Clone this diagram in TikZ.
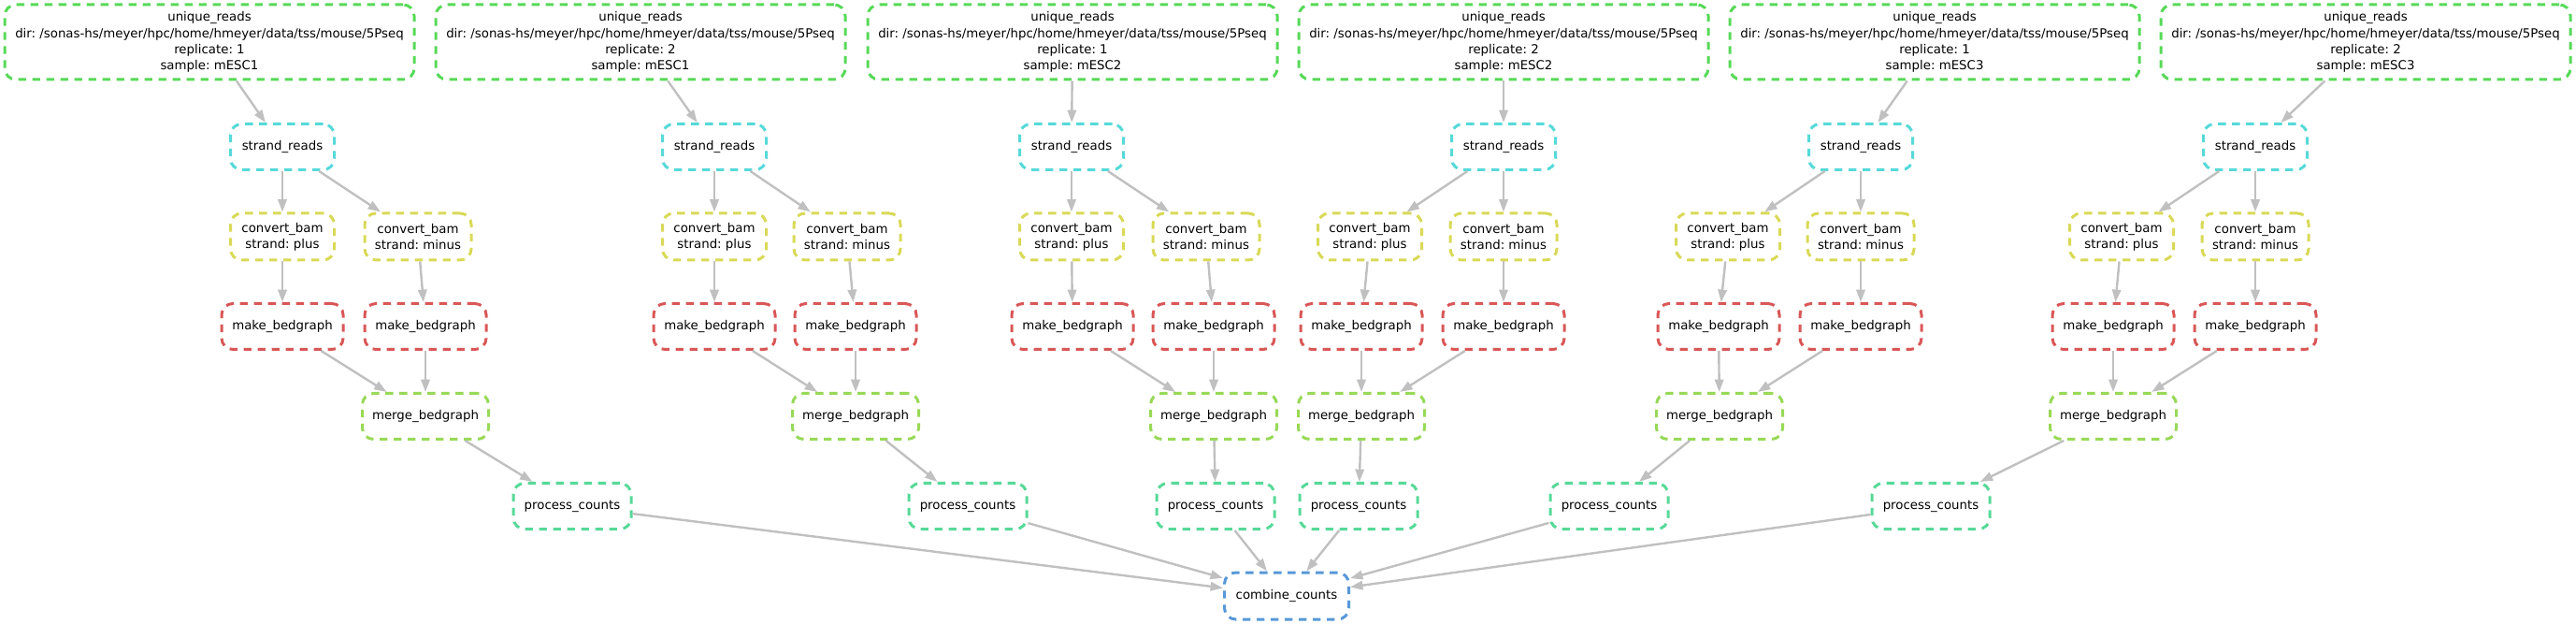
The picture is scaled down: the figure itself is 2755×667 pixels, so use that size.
\documentclass[tikz,border=0pt]{standalone}
\usepackage{fontspec}
\setmainfont{DejaVu Sans}
\usetikzlibrary{arrows.meta}
\definecolor{cU}{RGB}{87,217,87}
\definecolor{cS}{RGB}{87,217,217}
\definecolor{cC}{RGB}{217,217,87}
\definecolor{cM}{RGB}{217,87,87}
\definecolor{cG}{RGB}{152,217,87}
\definecolor{cP}{RGB}{87,217,152}
\definecolor{cK}{RGB}{87,152,217}
\definecolor{edgegray}{RGB}{192,192,192}
\frenchspacing
\begin{document}
\begin{tikzpicture}[x=0.5pt,y=-0.5pt,
  box/.style={draw, line width=1.5pt, dash pattern=on 4.2pt off 3.3pt,
    rounded corners=6pt, inner sep=0pt, align=center,
    font=\frenchspacing\fontsize{6.67}{8.6}\selectfont, text=black, fill=white},
  ubox/.style={box, draw=cU, minimum width=219pt, minimum height=40pt},
  sbox/.style={box, draw=cS, minimum width=55.5pt, minimum height=24.5pt},
  cbox/.style={box, draw=cC, minimum width=55.5pt, minimum height=25pt},
  cmbox/.style={box, draw=cC, minimum width=57pt, minimum height=25pt},
  mbox/.style={box, draw=cM, minimum width=65pt, minimum height=24.5pt},
  gbox/.style={box, draw=cG, minimum width=67.5pt, minimum height=24.5pt},
  pbox/.style={box, draw=cP, minimum width=63pt, minimum height=24.5pt},
  kbox/.style={box, draw=cK, minimum width=66.5pt, minimum height=25pt},
  edge/.style={draw=edgegray, line width=1.2pt, -{Triangle[length=6.7pt,width=4.7pt]}},
]
\useasboundingbox (0,0) rectangle (2755,667);
\node[kbox] (k) at (1376,637) {combine\_counts};
\foreach \i/\xU/\xS/\xCp/\xCm/\xMa/\xMb/\xG/\xP/\rp/\sm in {
  1/224/302/302/447/302/455/455/612/1/mESC1,
  2/685/764/764/906/764/915/915/1035/2/mESC1,
  3/1147/1146/1146/1290/1147/1298/1298/1300/1/mESC2,
  4/1608/1608/1465/1608/1456/1608/1456/1453/2/mESC2,
  5/2069/1990/1848/1990/1838/1990/1839/1721/1/mESC3,
  6/2530/2412/2269/2412/2260/2412/2260/2065/2/mESC3}{
  \node[ubox] (u\i) at (\xU,45) {unique\_reads\\dir: /sonas-hs/meyer/hpc/home/hmeyer/data/tss/mouse/5Pseq\\replicate: \rp\\sample: \sm};
  \node[sbox] (s\i) at (\xS,157) {strand\_reads};
  \node[cbox] (cp\i) at (\xCp,253) {convert\_bam\\strand: plus};
  \node[cmbox] (cm\i) at (\xCm,253) {convert\_bam\\strand: minus};
  \node[mbox] (ma\i) at (\xMa,349) {make\_bedgraph};
  \node[mbox] (mb\i) at (\xMb,349) {make\_bedgraph};
  \node[gbox] (g\i) at (\xG,445) {merge\_bedgraph};
  \node[pbox] (p\i) at (\xP,541) {process\_counts};
  \draw[edge] (u\i) -- (s\i);
  \draw[edge] (s\i) -- (cp\i);
  \draw[edge] (s\i) -- (cm\i);
  \draw[edge] (cp\i) -- (ma\i);
  \draw[edge] (cm\i) -- (mb\i);
  \draw[edge] (ma\i) -- (g\i);
  \draw[edge] (mb\i) -- (g\i);
  \draw[edge] (g\i) -- (p\i);
  \draw[edge] (p\i) -- (k);
}
\end{tikzpicture}
\end{document}
